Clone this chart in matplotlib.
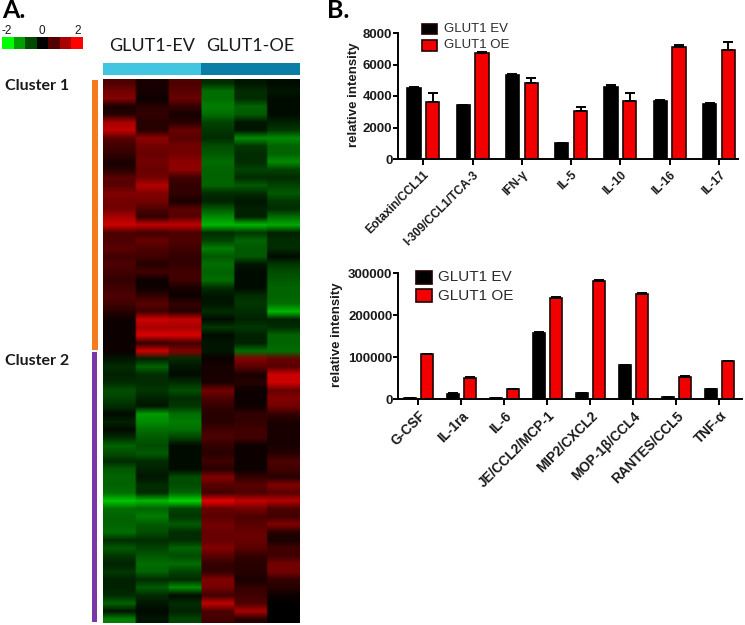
"""Panel A heatmap with two bar panels (GLUT1 EV vs OE cytokines)."""

import matplotlib

matplotlib.use("Agg")  # headless
import matplotlib.pyplot as plt  # noqa: E402
import numpy as np  # noqa: E402
from matplotlib.colors import LinearSegmentedColormap  # noqa: E402
from matplotlib.patches import Rectangle  # noqa: E402

W, H = 745, 625
SANS = ["Liberation Sans", "DejaVu Sans"]
INK = "#1a1a1a"

COLORBAR_VALUES = [-2.0, -1.33, -0.67, 0.0, 0.67, 1.33, 2.0]
COLORBAR_TICKS = ["-2", "0", "2"]

# columns: EV1 EV2 EV3 OE1 OE2 OE3, read top to bottom
CLUSTER1 = [
    [0.6, 0.2, 0.6, -0.4, -0.2, -0.1],
    [0.9, 0.2, 0.7, -1.0, -0.4, -0.2],
    [1.0, 0.1, 0.8, -1.0, -0.4, -0.1],
    [0.2, 0.3, 0.4, -1.1, -0.9, -0.1],
    [0.3, 0.4, 0.2, -1.0, -0.8, -0.1],
    [1.3, 0.3, 0.3, -0.6, -0.2, -0.3],
    [1.5, 0.3, 0.8, -0.5, -0.2, -0.5],
    [0.7, 1.1, 0.7, -0.4, -1.2, -1.2],
    [0.5, 0.9, 0.9, -0.7, -0.5, -0.9],
    [0.4, 0.8, 0.9, -0.8, -0.4, -0.9],
    [0.2, 0.9, 1.1, -1.0, -0.4, -1.2],
    [0.3, 0.8, 1.1, -0.9, -0.6, -0.6],
    [0.7, 0.9, 0.5, -0.9, -0.4, -0.4],
    [0.7, 1.4, 0.4, -0.9, -0.8, -0.6],
    [1.0, 1.0, 0.4, -0.4, -0.4, -0.8],
    [0.9, 0.9, 0.2, -0.3, -0.2, -0.5],
    [0.9, 0.6, 0.7, -0.8, -0.3, -0.4],
    [1.3, 0.4, 0.7, -1.2, -0.3, -1.0],
    [1.6, 1.5, 1.5, -1.5, -1.5, -1.4],
    [0.6, 0.5, 0.6, -0.4, -0.5, -0.3],
    [0.6, 0.8, 0.6, -0.6, -0.9, -0.4],
    [0.7, 0.6, 0.5, -1.1, -0.8, -0.4],
    [0.5, 0.5, 0.4, -0.8, -0.8, -0.1],
    [0.6, 0.3, 0.4, -1.0, -0.2, -0.5],
    [0.5, 0.5, 0.5, -0.9, -0.1, -0.7],
    [0.4, 0.1, 0.5, -1.0, -0.1, -0.8],
    [0.5, 0.1, 0.2, -0.4, -0.1, -0.9],
    [0.6, 0.4, 0.1, -0.2, -0.4, -0.9],
    [0.5, 0.7, 0.4, -0.2, -0.5, -1.0],
    [0.3, 0.5, 0.3, -0.4, -0.4, -1.5],
    [0.1, 1.6, 1.5, -0.1, -0.3, -0.3],
    [0.1, 1.3, 1.3, -0.5, -0.5, -0.4],
    [0.1, 1.7, 1.7, -0.1, -0.3, -0.9],
    [0.1, 0.4, 0.5, -0.2, -0.3, -0.9],
    [0.1, 1.6, 1.0, -0.2, -1.0, -1.0],
]
CLUSTER2 = [
    [-0.2, -0.3, -0.4, 0.1, 1.0, 0.8],
    [-0.4, -0.9, -0.2, 0.2, 0.7, 0.7],
    [-0.3, -0.4, -0.1, 0.2, 0.2, 1.6],
    [-0.4, -0.4, -0.4, 0.2, 0.3, 1.6],
    [-0.7, -0.5, -0.7, 0.9, 0.1, 0.8],
    [-0.6, -0.3, -0.4, 0.6, 0.1, 1.0],
    [-0.4, -0.2, -0.5, 0.4, 0.1, 0.9],
    [-0.1, -1.3, -1.0, 0.3, 0.4, 0.4],
    [-0.3, -1.2, -1.1, 0.3, 0.4, 0.2],
    [-0.1, -1.0, -1.0, 0.5, 0.5, 0.2],
    [-0.4, -0.8, -0.6, 0.6, 0.5, 0.2],
    [-0.9, -0.7, -0.1, 0.4, 0.1, 0.2],
    [-0.7, -0.8, -0.1, 0.3, 0.1, 0.3],
    [-0.4, -0.4, -0.1, 0.5, 0.1, 0.6],
    [-0.8, -0.3, -0.1, 0.3, 0.1, 0.5],
    [-0.9, -0.2, -0.7, 1.0, 0.4, 0.3],
    [-0.9, -0.4, -0.7, 0.7, 0.7, 1.0],
    [-1.0, -0.4, -0.9, 0.5, 0.6, 0.7],
    [-1.6, -1.5, -1.7, 1.8, 1.5, 1.4],
    [-1.0, -0.9, -0.6, 0.8, 0.9, 0.6],
    [-0.9, -1.1, -0.5, 0.7, 0.6, 0.5],
    [-0.9, -0.8, -0.8, 0.9, 0.7, 1.0],
    [-1.0, -0.7, -0.4, 0.8, 0.8, 0.3],
    [-0.4, -0.4, -0.4, 0.8, 0.8, 0.2],
    [-0.8, -0.6, -0.9, 1.0, 0.7, 0.5],
    [-0.5, -0.8, -0.7, 0.7, 0.4, 0.5],
    [-0.3, -1.0, -1.0, 0.4, 0.3, 0.9],
    [-0.5, -0.9, -0.6, 0.4, 0.3, 0.9],
    [-0.3, -0.4, -0.4, 1.0, 0.2, 0.4],
    [-0.3, -0.8, -1.2, 0.9, 0.4, 0.3],
    [-0.4, -0.4, -0.1, 0.5, 0.5, 0.1],
    [-0.9, -0.2, -0.4, 1.5, 0.6, 0.0],
    [-0.2, -0.1, -0.3, 0.6, 1.3, 0.0],
    [-1.1, -0.2, -0.6, 0.5, 0.3, 0.0],
]

TOP_LABELS = ["Eotaxin/CCL11", "I-309/CCL1/TCA-3", "IFN-γ", "IL-5", "IL-10", "IL-16", "IL-17"]
TOP_EV = [4500, 3400, 5350, 1000, 4550, 3700, 3500]
TOP_EV_ERR = [50, 60, 40, 10, 150, 20, 70]
TOP_OE = [3650, 6700, 4800, 3050, 3700, 7100, 6950]
TOP_OE_ERR = [550, 80, 320, 280, 500, 130, 480]
TOP_TICKS = [0, 2000, 4000, 6000, 8000]

LOW_LABELS = ["G-CSF", "IL-1ra", "IL-6", "JE/CCL2/MCP-1", "MIP2/CXCL2",
              "MOP-1β/CCL4", "RANTES/CCL5", "TNF-α"]
LOW_EV = [3000, 13000, 2000, 157000, 14000, 81000, 5000, 23000]
LOW_EV_ERR = [500, 1000, 300, 2000, 500, 1000, 500, 500]
LOW_OE = [106000, 51000, 23000, 240000, 281000, 249000, 53000, 90000]
LOW_OE_ERR = [1500, 1000, 1000, 2500, 1500, 2500, 1000, 1000]
LOW_TICKS = [0, 100000, 200000, 300000]


def axes_px(fig, x0, y0, x1, y1):
    """Оси по пиксельному прямоугольнику (y считается сверху)."""
    return fig.add_axes([x0 / W, 1 - y1 / H, (x1 - x0) / W, (y1 - y0) / H])


def strip(fig, x0, y0, x1, y1, color):
    fig.add_artist(Rectangle((x0 / W, 1 - y1 / H), (x1 - x0) / W, (y1 - y0) / H,
                             transform=fig.transFigure, color=color, lw=0))


def label_px(fig, x, y, s, **kw):
    kw.setdefault("ha", "left")
    kw.setdefault("va", "center")
    fig.text(x / W, 1 - y / H, s, **kw)


def bar_panel(fig, box, labels, ev, ev_err, oe, oe_err, ticks, ymax, xlim,
              width, offset, tick_fs, label_fs):
    ax = axes_px(fig, *box)
    x = np.arange(len(labels))
    zeros = np.zeros(len(labels))
    err_kw = {"ecolor": "black", "elinewidth": 1.4, "capsize": 3.6, "capthick": 1.4}
    ax.bar(x - offset, ev, width, color="black", edgecolor="black", linewidth=1.2,
           yerr=[zeros, ev_err], error_kw=err_kw)
    ax.bar(x + offset, oe, width, color="#f20000", edgecolor="#200000", linewidth=1.2,
           yerr=[zeros, oe_err], error_kw=err_kw)
    ax.set_xlim(*xlim)
    ax.set_ylim(0, ymax)
    ax.set_yticks(ticks)
    ax.set_xticks(x)
    ax.set_xticklabels(labels, rotation=45, ha="right", rotation_mode="anchor",
                       fontsize=label_fs, fontweight="bold", color=INK, family=SANS)
    ax.tick_params(axis="y", labelsize=tick_fs, width=1.4, length=3.5, pad=0.5, labelcolor=INK)
    ax.tick_params(axis="x", width=1.4, length=4, pad=3)
    for t in ax.get_yticklabels():
        t.set_fontweight("bold")
        t.set_family(SANS)
    for s in ("top", "right"):
        ax.spines[s].set_visible(False)
    for s in ("left", "bottom"):
        ax.spines[s].set_linewidth(1.4)
    ax.patch.set_alpha(0)
    return ax


def legend_keys(fig, x0, x1, rows, text_x, fs):
    for (y0, y1), color, name in rows:
        fig.add_artist(Rectangle((x0 / W, 1 - y1 / H), (x1 - x0) / W, (y1 - y0) / H,
                                 transform=fig.transFigure, facecolor=color,
                                 edgecolor="#200000", lw=1.2))
        label_px(fig, text_x, (y0 + y1) / 2, name, fontsize=fs, color="#2a2a2a", family=SANS)


def main() -> None:
    fig = plt.figure(figsize=(W / 100, H / 100), dpi=100, facecolor="white")
    cmap = LinearSegmentedColormap.from_list(
        "gkr", [(0.0, "#00ff00"), (0.25, "#006e00"), (0.5, "#000000"),
                (0.75, "#800000"), (1.0, "#ff0000")])

    # панель A
    label_px(fig, 2, 11, "A.", fontsize=18, fontweight="bold", family="Lato")
    label_px(fig, 327, 11, "B.", fontsize=18, fontweight="bold", family="Lato")

    cb = axes_px(fig, 2, 37, 83, 49)
    cb.imshow([COLORBAR_VALUES], cmap=cmap, vmin=-2, vmax=2, aspect="auto")
    cb.axis("off")
    for x, s in zip((7, 42, 78), COLORBAR_TICKS):
        label_px(fig, x, 31, s, ha="center", fontsize=8.5, color=INK, family=SANS)

    label_px(fig, 152, 46, "GLUT1-EV", ha="center", fontsize=13, color=INK, family="Lato")
    label_px(fig, 250, 46, "GLUT1-OE", ha="center", fontsize=13, color=INK, family="Lato")
    strip(fig, 103, 63, 201, 75, "#42c5e0")
    strip(fig, 201, 63, 300, 75, "#0b7ea8")

    strip(fig, 92, 80, 98, 350, "#f47b1e")
    strip(fig, 92, 352, 97, 622, "#7b35a5")
    label_px(fig, 5, 86, "Cluster 1", fontsize=11.5, fontweight="bold", color=INK, family="Lato")
    label_px(fig, 5, 361, "Cluster 2", fontsize=11.5, fontweight="bold", color=INK, family="Lato")

    # repeat по столбцам: размытие bilinear остаётся в пределах 1/16 ширины столбца
    heat = np.repeat(np.array(CLUSTER1 + CLUSTER2), 16, axis=1)
    hm = axes_px(fig, 103, 79, 300, 623)
    hm.imshow(heat, cmap=cmap, vmin=-2, vmax=2, aspect="auto", interpolation="bilinear")
    hm.axis("off")

    # панель B
    bar_panel(fig, (398, 33, 738, 159), TOP_LABELS, TOP_EV, TOP_EV_ERR, TOP_OE, TOP_OE_ERR,
              TOP_TICKS, 8000, (-0.513, 6.385), 0.27, 0.19, 9.5, 8.6)
    fig.text(354 / W, 1 - 95 / H, "relative intensity", rotation=90, ha="center", va="center",
             fontsize=9.5, fontweight="bold", color=INK, family=SANS)
    bar_panel(fig, (398, 273, 741.7, 399), LOW_LABELS, LOW_EV, LOW_EV_ERR, LOW_OE, LOW_OE_ERR,
              LOW_TICKS, 300000, (-0.472, 7.52), 0.28, 0.195, 9.5, 9.8)
    fig.text(337 / W, 1 - 335 / H, "relative intensity", rotation=90, ha="center", va="center",
             fontsize=9.5, fontweight="bold", color=INK, family=SANS)

    legend_keys(fig, 422, 437, [((24, 34), "black", "GLUT1 EV"), ((40, 51), "#f20000", "GLUT1 OE")],
                444, 9.5)
    legend_keys(fig, 416, 432, [((271, 284), "black", "GLUT1 EV"), ((289, 302), "#f20000", "GLUT1 OE")],
                438, 11)

    fig.savefig("out.png", dpi=100)
    plt.close(fig)


if __name__ == "__main__":
    main()
